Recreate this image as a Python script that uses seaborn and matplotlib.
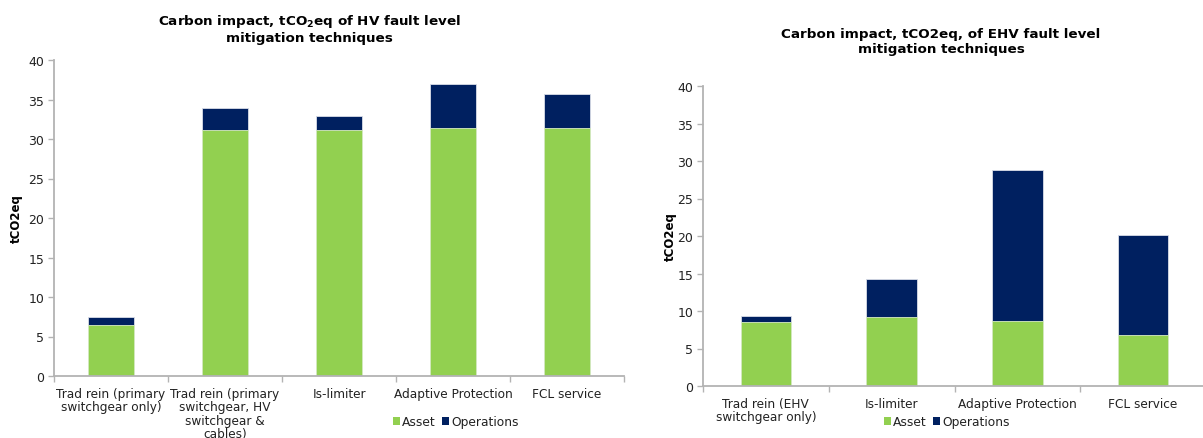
import matplotlib
matplotlib.use("Agg")
import matplotlib.pyplot as plt
import seaborn as sns
import pandas as pd
from matplotlib.patches import Patch
from matplotlib.ticker import FixedLocator, NullFormatter

# HV fault level mitigation techniques
hv_categories = [
    "Trad rein (primary\nswitchgear only)",
    "Trad rein (primary\nswitchgear, HV\nswitchgear &\ncables)",
    "Is-limiter",
    "Adaptive Protection",
    "FCL service",
]
hv_asset = [6.5, 31.2, 31.2, 31.4, 31.4]
hv_operations = [0.95, 2.7, 1.65, 5.5, 4.3]

# EHV fault level mitigation techniques
ehv_categories = [
    "Trad rein (EHV\nswitchgear only)",
    "Is-limiter",
    "Adaptive Protection",
    "FCL service",
]
ehv_asset = [8.5, 9.2, 8.7, 6.8]
ehv_operations = [0.8, 5.1, 20.1, 13.4]

y_ticks = [0, 5, 10, 15, 20, 25, 30, 35, 40]
series_names = ["Asset", "Operations"]

GREEN = "#92D050"
NAVY = "#002060"
AXIS_GREY = "#B3B3B3"
TEXT = "#222222"

sns.set_theme(style="white")
plt.rcParams["font.family"] = ["DejaVu Sans"]

W, H = 1203, 439
fig = plt.figure(figsize=(W / 100, H / 100), dpi=100)


def px_axes(x0, x1, y_top, y_bottom):
    return fig.add_axes([x0 / W, 1 - y_bottom / H, (x1 - x0) / W, (y_bottom - y_top) / H])


def stacked(ax, cats, asset, ops):
    df = pd.DataFrame({"cat": cats, "asset": asset, "ops": ops})
    df["total"] = df["asset"] + df["ops"]
    sns.barplot(data=df, x="cat", y="total", order=cats, color=NAVY, saturation=1,
                width=0.4, ax=ax, edgecolor="#d9dde8", linewidth=0.6)
    sns.barplot(data=df, x="cat", y="asset", order=cats, color=GREEN, saturation=1,
                width=0.4, ax=ax, edgecolor="#d9ecc4", linewidth=0.6)
    n = len(cats)
    ax.set_xlim(-0.5, n - 0.5)
    ax.set_ylim(0, 40)
    ax.set_yticks(y_ticks)
    ax.set_xlabel("")
    ax.set_ylabel("tCO2eq", fontsize=8.5, fontweight="bold", color="black")
    ax.tick_params(axis="y", which="major", length=4, width=1, color=AXIS_GREY,
                   labelsize=9, labelcolor=TEXT, pad=3, left=True)
    ax.tick_params(axis="x", which="major", length=0, labelsize=8.7, labelcolor=TEXT, pad=8)
    for lab in ax.get_xticklabels():
        lab.set_linespacing(1.02)
    ax.xaxis.set_minor_locator(FixedLocator([i - 0.5 for i in range(n + 1)]))
    ax.xaxis.set_minor_formatter(NullFormatter())
    ax.tick_params(axis="x", which="minor", length=4, width=1, color=AXIS_GREY, bottom=True)
    for side in ("top", "right"):
        ax.spines[side].set_visible(False)
    for side in ("left", "bottom"):
        ax.spines[side].set_color(AXIS_GREY)
        ax.spines[side].set_linewidth(1.3)
    ax.grid(False)


def legend(x_left, y_center):
    handles = [Patch(facecolor=GREEN, edgecolor="none"), Patch(facecolor=NAVY, edgecolor="none")]
    fig.legend(handles, series_names, loc="center left",
               bbox_to_anchor=(x_left / W, 1 - y_center / H), ncol=2, frameon=False,
               fontsize=8.8, handlelength=0.6, handleheight=0.6, handletextpad=0.15,
               columnspacing=0.5, borderpad=0, borderaxespad=0, labelcolor=TEXT)


ax1 = px_axes(54, 624, 61, 377)
stacked(ax1, hv_categories, hv_asset, hv_operations)
ax1.yaxis.set_label_coords((23 - 54) / 570, 0.5)
fig.text(309 / W, 1 - 29 / H, "Carbon impact, tCO$_\\mathbf{2}$eq of HV fault level\nmitigation techniques",
         ha="center", va="center", fontsize=9.7, fontweight="bold", color="black",
         linespacing=1.25)
legend(393, 423)

ax2 = px_axes(703, 1206, 87, 387)
stacked(ax2, ehv_categories, ehv_asset, ehv_operations)
ax2.yaxis.set_label_coords((677 - 703) / 503, 0.5)
fig.text(941 / W, 1 - 42 / H, "Carbon impact, tCO2eq, of EHV fault level\nmitigation techniques",
         ha="center", va="center", fontsize=9.7, fontweight="bold", color="black",
         linespacing=1.25)
legend(884, 423)

fig.savefig("out.png", dpi=100)
